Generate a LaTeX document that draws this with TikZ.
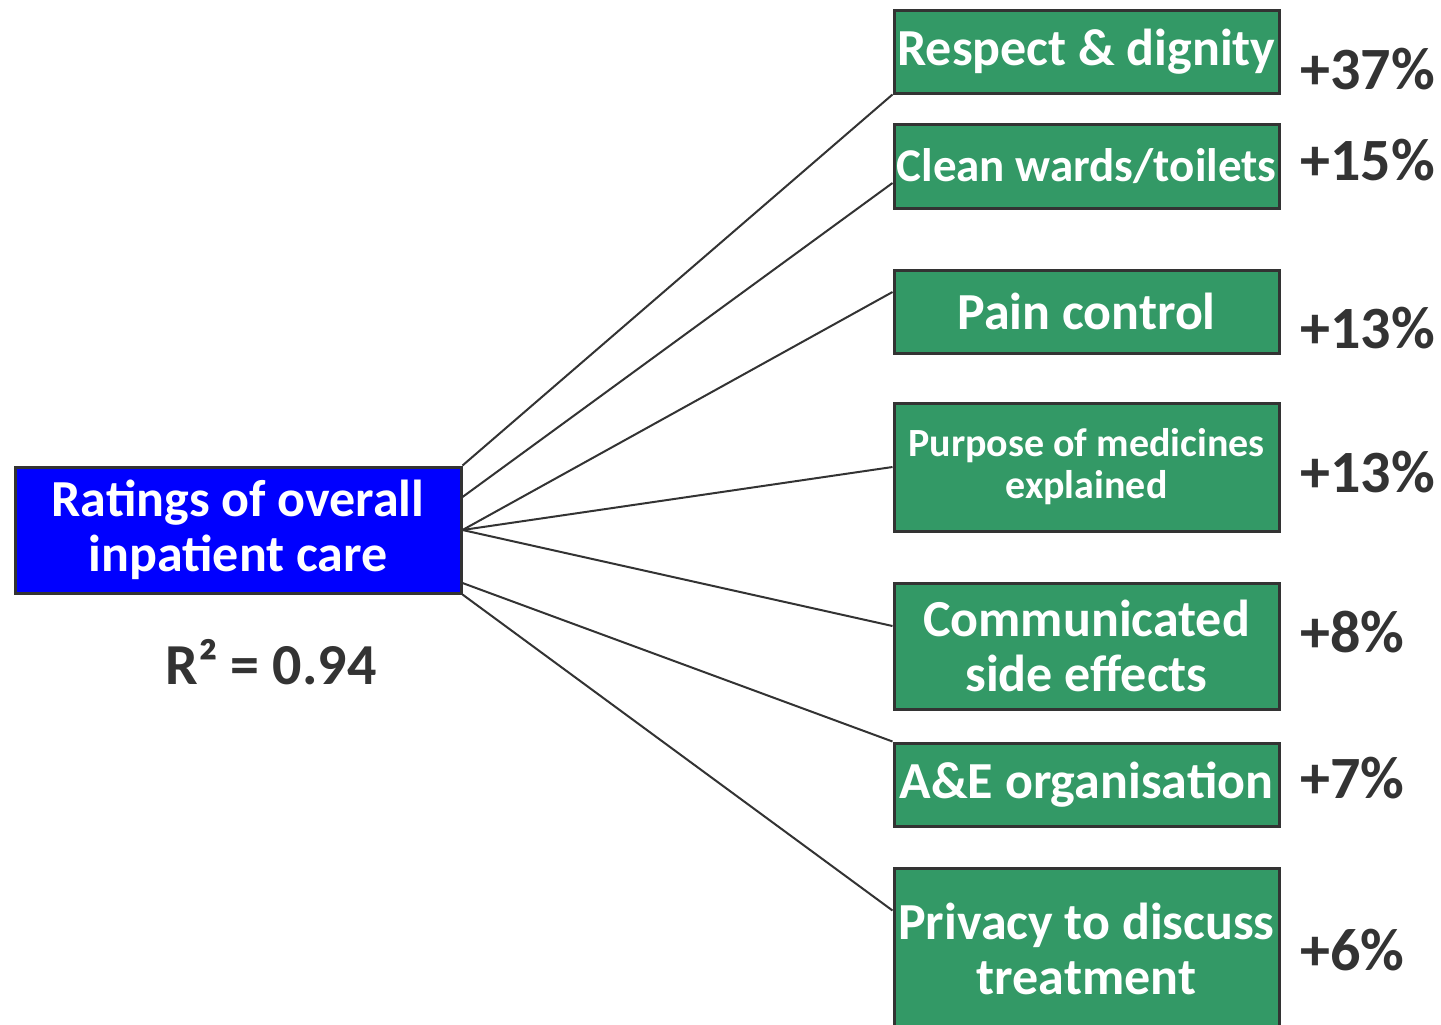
\documentclass[tikz,border=0pt]{standalone}
\usepackage{fontspec}
\setmainfont{Carlito}
\usetikzlibrary{positioning, calc}
\definecolor{boxgreen}{RGB}{51,153,102}
\definecolor{edgegray}{RGB}{51,51,51}
\definecolor{ratingblue}{RGB}{0,0,255}

\begin{document}
\begin{tikzpicture}[
    x=0.5pt, y=-0.5pt,
    factor/.style={rectangle, draw=edgegray, line width=1.5pt, fill=boxgreen, text=white, minimum width=192.5pt, inner sep=0pt, align=center, font=\bfseries\fontsize{26}{27.5}\selectfont},
    outcome/.style={factor, fill=ratingblue, minimum width=223pt, minimum height=63pt},
    pct/.style={anchor=west, inner sep=0pt, text=edgegray, font=\bfseries\fontsize{30}{31}\selectfont},
    link/.style={draw=edgegray, line width=1pt},
]
\useasboundingbox (0,0) rectangle (1441,1024);

% outcome box and fit statistic
\node[outcome] (overall) at (238,530) {Ratings of overall\\inpatient care};
\node[inner sep=0pt, text=edgegray, font=\bfseries\fontsize{29}{30}\selectfont] (rsq) at (271,662) {R² = 0.94};

% drivers
\node[factor, minimum height=41.5pt] (respect) at (1086.5,51.5) {Respect \& dignity};
\node[factor, minimum height=42pt, font=\bfseries\fontsize{23.5}{25}\selectfont] (clean) at (1086.5,166) {Clean wards/toilets};
\node[factor, minimum height=41.5pt] (pain) at (1086.5,311.5) {Pain control};
\node[factor, minimum height=64pt, font=\bfseries\fontsize{20}{21}\selectfont] (medicines) at (1086.5,467) {Purpose of medicines\\explained};
\node[factor, minimum height=63pt] (sideeff) at (1086.5,646) {Communicated\\side effects};
\node[factor, minimum height=41.5pt] (ae) at (1086.5,784.5) {A\&E organisation};
\node[factor, minimum height=81pt] (privacy) at (1086.5,949) {Privacy to discuss\\treatment};

% percentages
\node[pct] (p-respect) at (1300,69) {+37\%};
\node[pct] (p-clean) at (1300,160) {+15\%};
\node[pct] (p-pain) at (1300,328) {+13\%};
\node[pct] (p-medicines) at (1300,472) {+13\%};
\node[pct] (p-sideeff) at (1300,632) {+8\%};
\node[pct] (p-ae) at (1300,778) {+7\%};
\node[pct] (p-privacy) at (1300,950) {+6\%};

% links
\draw[link] (overall.north east) -- (respect.south west);
\draw[link] ([yshift=16.5pt]overall.east) -- ([yshift=-8.5pt]clean.west);
\draw[link] (overall.east) -- ([yshift=9.75pt]pain.west);
\draw[link] (overall.east) -- (medicines.west);
\draw[link] (overall.east) -- ([yshift=10pt]sideeff.west);
\draw[link] ([yshift=-26.5pt]overall.east) -- (ae.north west);
\draw[link] (overall.south east) -- ([yshift=-22pt]privacy.north west);
\end{tikzpicture}
\end{document}
